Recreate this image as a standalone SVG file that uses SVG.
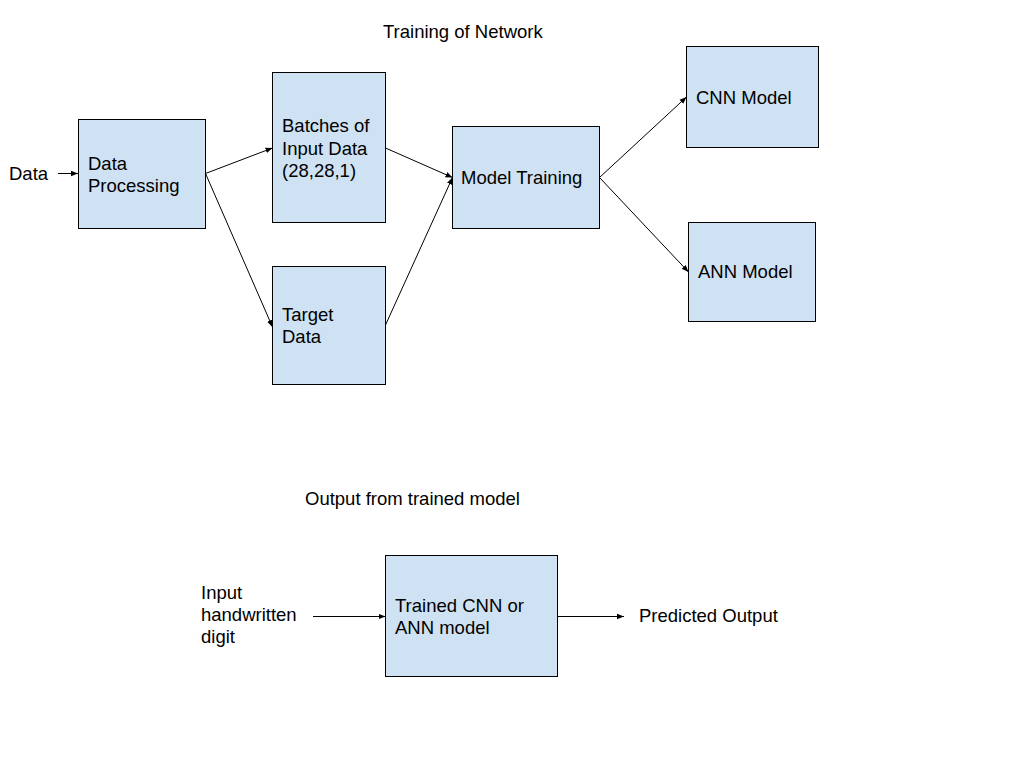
<svg xmlns="http://www.w3.org/2000/svg" width="1024" height="768" viewBox="0 0 1024 768">
<style>
.box{fill:#cfe2f3;stroke:#000;stroke-width:1}
text{font-family:"Liberation Sans",Arial,sans-serif;font-size:18.5px;fill:#000}
.c{stroke:#000;stroke-width:1;fill:none;marker-end:url(#ah)}
</style>
<defs>
<marker id="ah" viewBox="0 0 10 10" refX="10" refY="5" markerWidth="7" markerHeight="7" markerUnits="userSpaceOnUse" orient="auto">
<path d="M0,1 L10,5 L0,9 z" fill="#000"/>
</marker>
</defs>
<rect width="1024" height="768" fill="#fff"/>
<text x="383" y="38">Training of Network</text>
<text x="305" y="505">Output from trained model</text>
<g id="data-label"><text x="9" y="180">Data</text></g>
<g id="data-processing"><rect class="box" x="78.500" y="119.500" width="127" height="109"/><text x="88" y="170">Data</text><text x="88" y="192">Processing</text></g>
<g id="batches"><rect class="box" x="272.500" y="72.500" width="113" height="150"/><text x="282" y="132">Batches of</text><text x="282" y="155">Input Data</text><text x="282" y="177">(28,28,1)</text></g>
<g id="target"><rect class="box" x="272.500" y="266.500" width="113" height="118"/><text x="282" y="321">Target</text><text x="282" y="343">Data</text></g>
<g id="model-training"><rect class="box" x="452.500" y="126.500" width="147" height="102"/><text x="461" y="184">Model Training</text></g>
<g id="cnn"><rect class="box" x="686.500" y="46.500" width="132" height="101"/><text x="696" y="104">CNN Model</text></g>
<g id="ann"><rect class="box" x="688.500" y="222.500" width="127" height="99"/><text x="698" y="278">ANN Model</text></g>
<g id="input-label"><text x="201" y="599">Input</text><text x="201" y="621">handwritten</text><text x="201" y="643">digit</text></g>
<g id="trained"><rect class="box" x="385.500" y="555.500" width="172" height="121"/><text x="395" y="612">Trained CNN or</text><text x="395" y="634">ANN model</text></g>
<g id="predicted-label"><text x="639" y="622">Predicted Output</text></g>
<g id="connectors">
<line class="c" x1="58" y1="173.500" x2="78" y2="173.500"/>
<line class="c" x1="205.500" y1="173.500" x2="272.500" y2="148"/>
<line class="c" x1="205.500" y1="173.500" x2="272.500" y2="327"/>
<line class="c" x1="385.500" y1="148" x2="452.500" y2="177.500"/>
<line class="c" x1="385.500" y1="325" x2="452.500" y2="177.500"/>
<line class="c" x1="599.500" y1="177.500" x2="686.500" y2="97"/>
<line class="c" x1="599.500" y1="177.500" x2="688.500" y2="272"/>
<line class="c" x1="313" y1="616.500" x2="385.500" y2="616.500"/>
<line class="c" x1="557.500" y1="616.500" x2="624" y2="616.500"/>
</g>
</svg>
